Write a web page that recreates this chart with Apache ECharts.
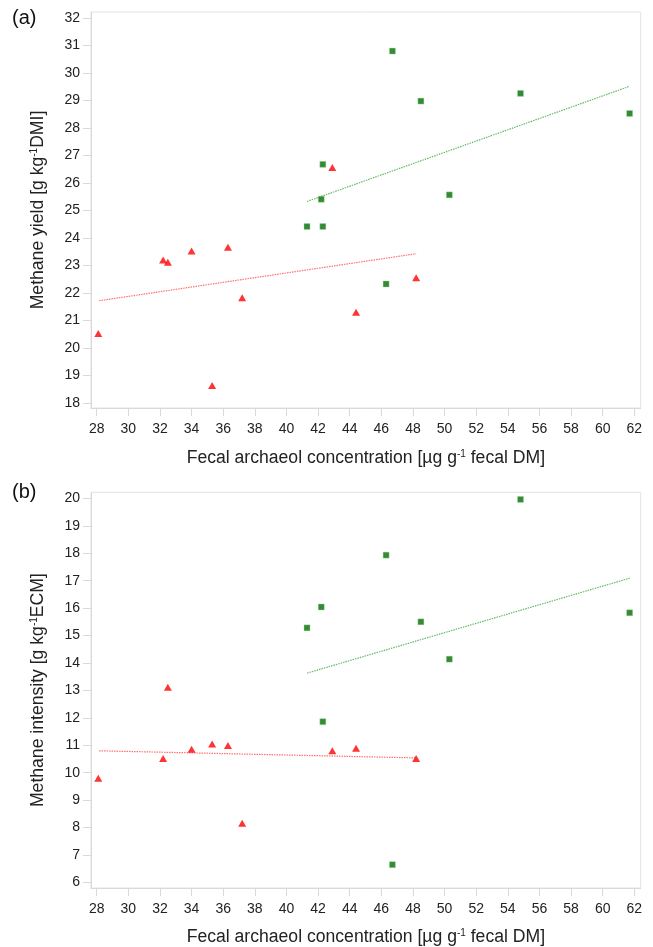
<!DOCTYPE html>
<html><head><meta charset="utf-8">
<script src="https://cdn.jsdelivr.net/npm/echarts@6/dist/echarts.min.js"></script>
<style>html,body{margin:0;padding:0;background:#fff}#c{width:653px;height:947px}</style>
</head><body><div id="c"></div>
<script>
// ---- data ----
const xTicks = [28,30,32,34,36,38,40,42,44,46,48,50,52,54,56,58,60,62];
const yTicksA = [18,19,20,21,22,23,24,25,26,27,28,29,30,31,32];
const yTicksB = [6,7,8,9,10,11,12,13,14,15,16,17,18,19,20];

const redX = [28.1, 32.2, 32.5, 34.0, 35.3, 36.3, 37.2, 42.9, 44.4, 48.2];
const redYield = [20.53, 23.2, 23.12, 23.53, 18.64, 23.67, 21.83, 26.57, 21.3, 22.56];
const redIntensity = [9.8, 10.52, 13.12, 10.86, 11.05, 10.99, 8.16, 10.8, 10.89, 10.52];

const greenXA = [41.3, 42.2, 42.3, 42.3, 46.3, 46.7, 48.5, 50.3, 54.8, 61.7];
const greenYield = [24.42, 25.41, 24.42, 26.68, 22.33, 30.8, 28.98, 25.57, 29.26, 28.53];
const greenXB = [41.3, 42.2, 42.3, 46.3, 46.7, 48.5, 50.3, 54.8, 61.7];
const greenIntensity = [15.28, 16.04, 11.86, 17.93, 6.65, 15.5, 14.14, 19.96, 15.83];

const redTrendX = [28.15, 48.2];
const redTrendYield = [21.72, 23.43];
const redTrendIntensity = [10.8, 10.54];
const greenTrendX = [41.3, 61.7];
const greenTrendYield = [25.33, 29.52];
const greenTrendIntensity = [13.63, 17.09];

const xTitle = 'Fecal archaeol concentration [µg g{s|-1} fecal DM]';
const yTitleA = 'Methane yield [g kg{s|-1}DMI]';
const yTitleB = 'Methane intensity [g kg{s|-1}ECM]';

// ---- chart ----
const FONT = 'Liberation Sans, Arial, sans-serif';
const TXT = '#222';
const AX = '#d9d9d9';
const pair = (xs, ys) => xs.map((x, i) => [x, ys[i]]);
const rich = { s: { fontSize: 10, verticalAlign: 'top', padding: [0, 0, 8, 0], fontFamily: FONT, color: TXT } };

function xAxis(gi, gap) {
  return {
    type: 'value', gridIndex: gi, min: 27.64, max: 62.4,
    name: xTitle, nameLocation: 'middle', nameGap: gap,
    nameTextStyle: { fontFamily: FONT, fontSize: 17.6, color: TXT, rich: rich },
    axisLine: { show: true, lineStyle: { color: AX } },
    axisTick: { show: true, length: 8, lineStyle: { color: AX }, customValues: xTicks },
    axisLabel: { fontFamily: FONT, fontSize: 14, color: TXT, margin: 14, customValues: xTicks },
    splitLine: { show: false }
  };
}
function yAxis(gi, min, max, ticks, title) {
  return {
    type: 'value', gridIndex: gi, min: min, max: max,
    name: title, nameLocation: 'middle', nameGap: 44,
    nameTextStyle: { fontFamily: FONT, fontSize: 17.6, color: TXT, rich: rich },
    axisLine: { show: true, lineStyle: { color: AX } },
    axisTick: { show: true, length: 8, lineStyle: { color: AX }, customValues: ticks },
    axisLabel: { fontFamily: FONT, fontSize: 14, color: TXT, margin: 11, customValues: ticks },
    splitLine: { show: false }
  };
}
function scatterRed(xi, data) {
  return { type: 'scatter', xAxisIndex: xi, yAxisIndex: xi, data: data, symbol: 'triangle',
    symbolSize: [8, 7], itemStyle: { color: '#ff0000' }, z: 3 };
}
function scatterGreen(xi, data) {
  return { type: 'scatter', xAxisIndex: xi, yAxisIndex: xi, data: data, symbol: 'rect',
    symbolSize: 6, itemStyle: { color: '#006e00', borderColor: '#a8d8a8', borderWidth: 0.5 }, z: 3 };
}
function trend(xi, data, color) {
  return { type: 'line', xAxisIndex: xi, yAxisIndex: xi, data: data, symbol: 'none',
    lineStyle: { color: color, width: 1.2, type: [1.5, 1] }, z: 2 };
}

const chart = echarts.init(document.getElementById('c'), null, { renderer: 'canvas' });
chart.setOption({
  backgroundColor: '#fff',
  animation: false,
  grid: [
    { left: 91, top: 12, width: 549.7, height: 396, show: true, borderColor: '#e3e3e3', borderWidth: 1 },
    { left: 91, top: 492.3, width: 549.7, height: 397, show: true, borderColor: '#e3e3e3', borderWidth: 1 }
  ],
  xAxis: [xAxis(0, 41), xAxis(1, 40)],
  yAxis: [
    yAxis(0, 17.82, 32.22, yTicksA, yTitleA),
    yAxis(1, 5.8, 20.22, yTicksB, yTitleB)
  ],
  graphic: [
    { type: 'text', left: 12, top: 8, style: { text: '(a)', font: '20px ' + FONT, fill: '#111' } },
    { type: 'text', left: 12, top: 482, style: { text: '(b)', font: '20px ' + FONT, fill: '#111' } }
  ],
  series: [
    trend(0, pair(redTrendX, redTrendYield), '#ff7070'),
    trend(0, pair(greenTrendX, greenTrendYield), '#66b866'),
    scatterRed(0, pair(redX, redYield)),
    scatterGreen(0, pair(greenXA, greenYield)),
    trend(1, pair(redTrendX, redTrendIntensity), '#ff7070'),
    trend(1, pair(greenTrendX, greenTrendIntensity), '#66b866'),
    scatterRed(1, pair(redX, redIntensity)),
    scatterGreen(1, pair(greenXB, greenIntensity))
  ]
});
</script></body></html>
